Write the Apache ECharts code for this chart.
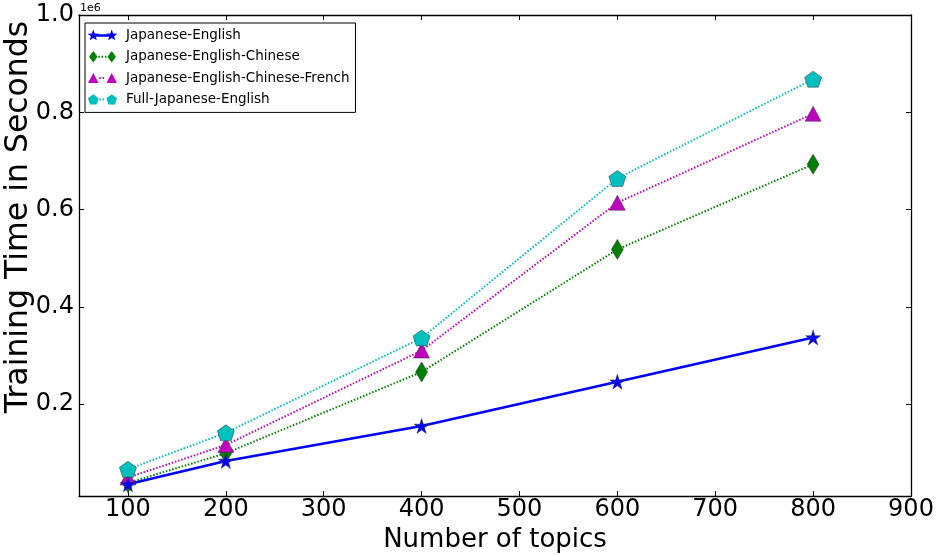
<!DOCTYPE html>
<html>
<head>
<meta charset="utf-8">
<script src="https://cdn.jsdelivr.net/npm/echarts@6/dist/echarts.min.js"></script>
<style>html,body{margin:0;padding:0;background:#fff}#c{width:938px;height:555px}</style>
</head>
<body>
<div id="c"></div>
<script>
var topics = [100, 200, 400, 600, 800];
var jaEn = [35000, 83000, 155000, 246000, 337000];
var jaEnZh = [38000, 99000, 266000, 518000, 693000];
var jaEnZhFr = [49000, 116000, 310000, 614000, 797000];
var fullJaEn = [66000, 141000, 336000, 664000, 868000];
var xTicks = [100, 200, 300, 400, 500, 600, 700, 800, 900];
var yTicks = [200000, 400000, 600000, 800000, 1000000];
var seriesNames = ['Japanese-English', 'Japanese-English-Chinese', 'Japanese-English-Chinese-French', 'Full-Japanese-English'];
var xTitle = 'Number of topics';
var yTitle = 'Training Time in Seconds';

var STAR = 'path://M50,0 L61.2,34.5 L97.6,34.5 L68.2,55.9 L79.4,90.5 L50,69.1 L20.6,90.5 L31.8,55.9 L2.4,34.5 L38.8,34.5 Z';
var PENT = 'path://M50,0 L97.6,34.5 L79.4,90.5 L20.6,90.5 L2.4,34.5 Z';
var FONT = 'DejaVu Sans';

function pairs(vals) { return topics.map(function (t, i) { return [t, vals[i]]; }); }

// ---- legend handle icons (matplotlib style: marker, line, marker) ----
function poly(pts) {
  return 'M' + pts.map(function (p) { return p[0].toFixed(2) + ',' + p[1].toFixed(2); }).join(' L') + ' Z ';
}
function starPts(cx, cy, R) {
  var pts = [], r = R * 0.42;
  for (var i = 0; i < 10; i++) {
    var a = -Math.PI / 2 + i * Math.PI / 5, rr = i % 2 ? r : R;
    pts.push([cx + rr * Math.cos(a), cy + rr * Math.sin(a)]);
  }
  return pts;
}
function pentPts(cx, cy, R) {
  var pts = [];
  for (var i = 0; i < 5; i++) {
    var a = -Math.PI / 2 + i * 2 * Math.PI / 5;
    pts.push([cx + R * Math.cos(a), cy + R * Math.sin(a) + R * 0.1]);
  }
  return pts;
}
function triPts(cx, cy, w, h) { return [[cx, cy - h / 2], [cx + w / 2, cy + h / 2], [cx - w / 2, cy + h / 2]]; }
function diaPts(cx, cy, w, h) { return [[cx, cy - h / 2], [cx + w / 2, cy], [cx, cy + h / 2], [cx - w / 2, cy]]; }
var IW = 36, IH = 12, C1 = 8.3, C2 = 26.7, CY = 6;
function frame() { return 'M0,0 L0.01,0 Z M' + IW + ',' + IH + ' L' + (IW - 0.01) + ',' + IH + ' Z '; }
function solidLine() { return poly([[C1, CY - 1.2], [C2, CY - 1.2], [C2, CY + 1.2], [C1, CY + 1.2]]); }
function dottedLine(x0, x1) {
  var s = '';
  for (var x = x0 + 1; x + 1.5 <= x1; x += 3.3) s += poly([[x, CY - 1], [x + 1.5, CY - 1], [x + 1.5, CY + 1], [x, CY + 1]]);
  return s;
}
var iconStar = 'path://' + frame() + solidLine() + poly(starPts(C1, CY, 6)) + poly(starPts(C2, CY, 6));
var iconDia = 'path://' + frame() + dottedLine(C1 + 4, C2 - 4) + poly(diaPts(C1, CY, 8.5, 11.5)) + poly(diaPts(C2, CY, 8.5, 11.5));
var iconTri = 'path://' + frame() + dottedLine(C1 + 5, C2 - 5) + poly(triPts(C1, CY, 10.5, 10)) + poly(triPts(C2, CY, 10.5, 10));
var iconPent = 'path://' + frame() + dottedLine(C1 + 5, C2 - 5) + poly(pentPts(C1, CY, 5.6)) + poly(pentPts(C2, CY, 5.6));

var chart = echarts.init(document.getElementById('c'), null, {renderer: 'canvas'});
var tickStyle = {show: true, inside: true, length: 5, lineStyle: {color: '#000', width: 1}};
var lineStyleAx = {show: true, lineStyle: {color: '#000', width: 1.3}};
chart.setOption({
  animation: false,
  backgroundColor: '#fff',
  textStyle: {fontFamily: FONT},
  grid: {left: 79, right: 27, top: 15, bottom: 59, containLabel: false, outerBoundsMode: 'none'},
  legend: {
    orient: 'vertical', left: 85, top: 23,
    data: [
      {name: seriesNames[0], icon: iconStar},
      {name: seriesNames[1], icon: iconDia},
      {name: seriesNames[2], icon: iconTri},
      {name: seriesNames[3], icon: iconPent}
    ],
    symbolKeepAspect: true,
    itemWidth: IW, itemHeight: IH, itemGap: 7.3,
    itemStyle: {borderWidth: 0},
    padding: [5.5, 6, 6, 0],
    borderColor: '#000', borderWidth: 1, backgroundColor: '#fff',
    textStyle: {fontFamily: FONT, fontSize: 13.5, color: '#000'}
  },
  graphic: [
    {type: 'text', left: 80, top: 3, style: {text: '1e6', fontFamily: FONT, fontSize: 11, fill: '#000'}},
    {type: 'text', x: 19, y: 217, rotation: Math.PI / 2,
      style: {text: yTitle, fontFamily: FONT, fontSize: 31.5, fill: '#000', align: 'center', verticalAlign: 'middle'}}
  ],
  xAxis: [{
    type: 'value', min: 50, max: 900,
    name: xTitle, nameLocation: 'middle', nameGap: 26,
    nameTextStyle: {fontFamily: FONT, fontSize: 26, color: '#000'},
    axisLine: lineStyleAx, axisTick: Object.assign({customValues: xTicks}, tickStyle),
    axisLabel: {customValues: xTicks, fontFamily: FONT, fontSize: 24, color: '#000', margin: 2},
    splitLine: {show: false}
  }, {
    type: 'value', min: 50, max: 900, position: 'top',
    axisLine: lineStyleAx, axisTick: Object.assign({customValues: xTicks}, tickStyle),
    axisLabel: {show: false}, splitLine: {show: false}
  }],
  yAxis: [{
    type: 'value', min: 11000, max: 1000000,
    axisLine: lineStyleAx, axisTick: Object.assign({customValues: yTicks}, tickStyle),
    axisLabel: {customValues: yTicks, fontFamily: FONT, fontSize: 24, color: '#000', margin: 5,
      formatter: function (v) { return (v / 1e6).toFixed(1); }},
    splitLine: {show: false}
  }, {
    type: 'value', min: 11000, max: 1000000, position: 'right',
    axisLine: lineStyleAx, axisTick: Object.assign({customValues: yTicks}, tickStyle),
    axisLabel: {show: false}, splitLine: {show: false}
  }],
  series: [{
    name: seriesNames[0], type: 'line', data: pairs(jaEn),
    symbol: STAR, symbolSize: 15, z: 4,
    lineStyle: {color: '#0000ff', width: 2.5, type: 'solid'},
    itemStyle: {color: '#0000ff', borderColor: '#333', borderWidth: 0.5}
  }, {
    name: seriesNames[1], type: 'line', data: pairs(jaEnZh),
    symbol: 'diamond', symbolSize: [12, 20], z: 3,
    lineStyle: {color: '#008000', width: 2, type: [1.5, 1.8]},
    itemStyle: {color: '#008000', borderColor: '#333', borderWidth: 0.5}
  }, {
    name: seriesNames[2], type: 'line', data: pairs(jaEnZhFr),
    symbol: 'triangle', symbolSize: [16, 15], z: 3,
    lineStyle: {color: '#bf00bf', width: 2, type: [1.5, 1.8]},
    itemStyle: {color: '#bf00bf', borderColor: '#333', borderWidth: 0.5}
  }, {
    name: seriesNames[3], type: 'line', data: pairs(fullJaEn),
    symbol: PENT, symbolSize: [17, 16], z: 3,
    lineStyle: {color: '#00bfbf', width: 2, type: [1.5, 1.8]},
    itemStyle: {color: '#00bfbf', borderColor: '#333', borderWidth: 0.5}
  }]
});
</script>
</body>
</html>
